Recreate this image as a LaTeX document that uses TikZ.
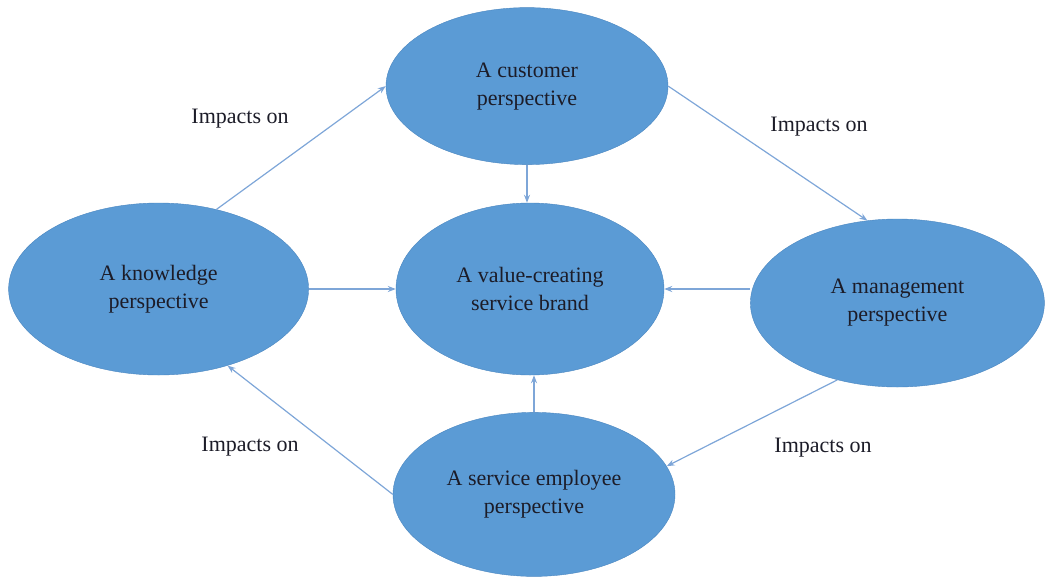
\documentclass[tikz,border=0pt]{standalone}
\usepackage{fontspec}
\setmainfont{LiberationSerif-Regular.ttf}
\usepackage{xcolor}
\definecolor{ellblue}{HTML}{5B9BD5}
\definecolor{ellline}{HTML}{4A86C0}
\definecolor{arrblue}{HTML}{7EA6D8}
\definecolor{darktext}{HTML}{1C1C28}
\usepackage{tikz}
\usetikzlibrary{shapes.geometric,positioning,arrows.meta}

\begin{document}
\begin{tikzpicture}[x = 1pt, y = 1pt, perspective/.style={
					ellipse, inner sep = 0pt, thin, draw = ellline, fill = ellblue,
					text = darktext, align = center, font = \fontsize{22}{28}\selectfont},
				impact/.style={draw = arrblue, line width = 1.2pt, -{Stealth[length = 8pt, width = 6pt]}},
				impactlabel/.style={text = darktext, font = \fontsize{22}{26}\selectfont}]
		\useasboundingbox (0,0) rectangle (1046,-576);
		\node (brand) [perspective, minimum width = 268pt, minimum height = 172pt] at (530,-289) {A value-creating\\service brand};
		\node (customer) [perspective, minimum width = 282pt, minimum height = 157pt, above=38pt of brand, xshift = -3pt] {A customer\\perspective};
		\node (knowledge) [perspective, minimum width = 300pt, minimum height = 172pt, left=87pt of brand] {A knowledge\\perspective};
		\node (management) [perspective, minimum width = 294pt, minimum height = 168pt, right=86pt of brand, yshift = -14pt] {A management\\perspective};
		\node (employee) [perspective, minimum width = 282pt, minimum height = 164pt, below=37pt of brand, xshift = 4pt] {A service employee\\perspective};
		\node (lblkc) [impactlabel] at (240,-119) {Impacts on};
		\node (lblcm) [impactlabel] at (819,-127) {Impacts on};
		\node (lblek) [impactlabel] at (250,-447) {Impacts on};
		\node (lblme) [impactlabel] at (823,-448) {Impacts on};
		\draw [impact] (knowledge.54) -- (customer.west);
		\draw [impact] (customer.east) -- (management.110);
		\draw [impact] (management.232) -- (employee.12);
		\draw [impact] (employee.west) -- (knowledge.-48);
		\draw [impact] (customer.south) -- (customer.south |- brand.north);
		\draw [impact] (knowledge.east) -- (brand.west);
		\draw [impact] (management.west |- brand.east) -- (brand.east);
		\draw [impact] (employee.north) -- (employee.north |- brand.south);
	\end{tikzpicture}
\end{document}
